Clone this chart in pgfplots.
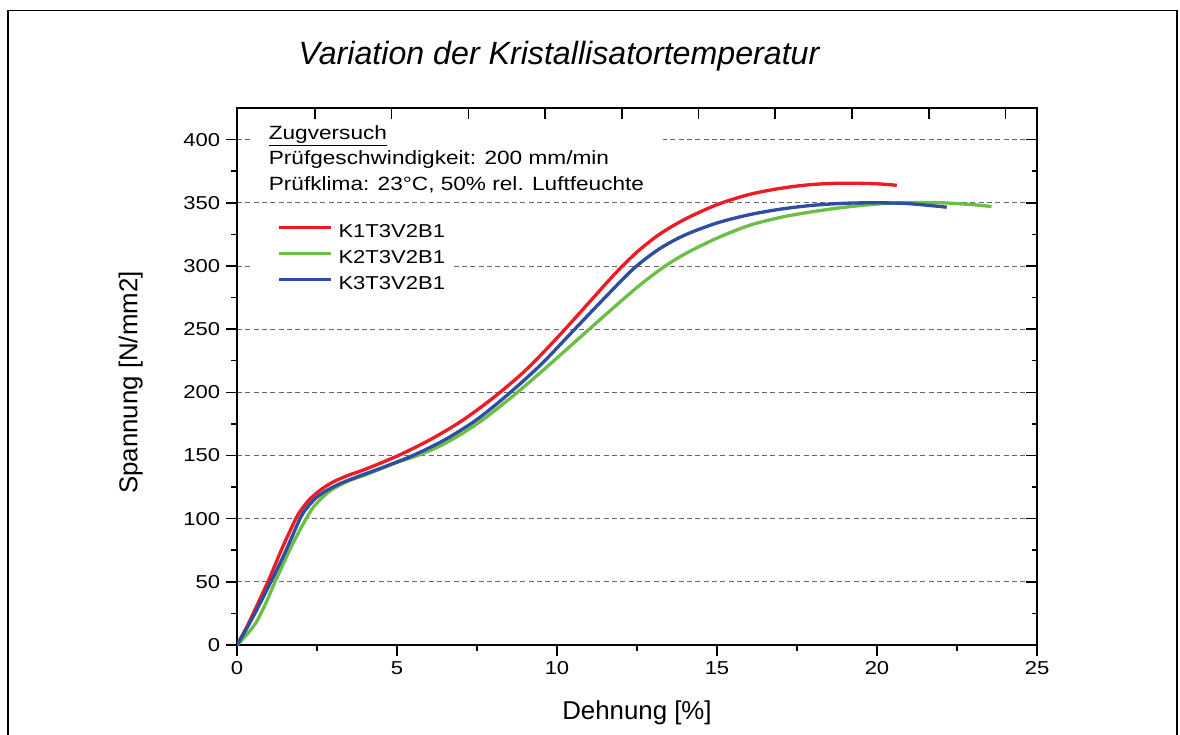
\documentclass[border=0pt]{standalone}
\usepackage{fontspec}
\setmainfont{Liberation Sans}
\newfontfamily\widesans[FakeStretch=1.18]{Liberation Sans}
\usepackage{pgfplots}
\pgfplotsset{compat=1.18}

\definecolor{cKone}{RGB}{237,28,36}
\definecolor{cKtwo}{RGB}{108,190,70}
\definecolor{cKthree}{RGB}{46,78,160}

\begin{document}
\begin{tikzpicture}[x=0.6pt,y=0.6pt]
\path[use as bounding box] (0,0) rectangle (1180,734);
% outer frame
\draw[line width=0.9pt] (8,-10) -- (8,723.3) -- (1177,723.3) -- (1177,-10);
% title
\node[anchor=base, font=\fontsize{19.3}{22}\selectfont\itshape] at (559,669)
  {Variation der Kristallisatortemperatur};

\begin{axis}[
  at={(142.2pt,53.4pt)}, anchor=south west,
  width=480pt, height=322.2pt, scale only axis,
  xmin=0, xmax=25, ymin=0, ymax=425,
  xtick={0,5,...,25}, ytick={0,50,...,400},
  minor x tick num=1, minor y tick num=1,
  xtick pos=left, ytick pos=left,
  tick align=outside,
  major tick length=6.6pt, minor tick length=3.3pt,
  tick style={black, line width=0.9pt},
  axis line style={line width=0.9pt},
  ymajorgrids,
  major grid style={black!60, line width=0.5pt, dash pattern=on 3pt off 2pt},
  /pgf/number format/assume math mode=true,
  ticklabel style={font=\widesans\fontsize{11.2}{13}\selectfont},
  xlabel={Dehnung [\%]},
  ylabel={Spannung [N/mm2]},
  label style={font=\fontsize{15.5}{18}\selectfont},
  xlabel style={at={(axis description cs:0.5,-0.1384)}, anchor=base},
  ylabel style={at={(axis description cs:-0.1246,0.4888)}, anchor=base},
  legend style={at={(axis description cs:0.0496,0.7896)}, anchor=north west,
    draw=none, fill=none, inner sep=0pt, row sep=0pt, column sep=3.6pt,
    font=\widesans\fontsize{11.2}{13}\selectfont,
    nodes={inner sep=0pt, text height=10pt, text depth=5.5pt}},
  legend cell align=left,
  legend image code/.code={\draw[#1] (0pt,4pt) -- (31.3pt,4pt);},
]
% white backgrounds behind the annotation and the legend
\fill[white] (axis cs:0.406,413.9) rectangle (axis cs:13.31,355.4);
\fill[white] (axis cs:0.406,342.7) rectangle (axis cs:6.656,274.6);

\addplot[cKone, line width=2pt, smooth] coordinates {
(0,0) (0.3,14) (0.6,30) (1.0,52) (1.4,76) (1.84,100) (2.05,108.5) (2.3,116)
(2.6,122.5) (3.0,129) (3.5,134.5) (4.0,139) (5.0,149.5) (6.0,162) (7.0,177)
(8.0,195.5) (9.0,217) (10.0,243) (11.0,271) (11.8,293.5) (12.5,311)
(13.2,325) (14.0,337) (15.0,348.5) (16.0,356.5) (17.0,361.5) (18.0,364.5)
(19.0,365.5) (20.0,365) (20.62,363.8)
};
\addlegendentry{K1T3V2B1}

\addplot[cKtwo, line width=2pt, smooth] coordinates {
(0,0) (0.3,8) (0.6,18) (0.9,33) (1.19,50) (1.7,78) (2.16,100) (2.4,109.5)
(2.7,117.5) (3.0,123.5) (3.5,130) (4.0,134.5) (4.5,139.5) (5.0,144.5)
(5.7,150.5) (6.5,159.5) (7.5,175) (8.5,194.5) (9.5,216) (10.5,238.5)
(11.5,261) (12.5,283) (13.3,298.5) (14.0,309.5) (15.0,322) (16.0,332)
(17.0,338.5) (18.0,343) (19.0,346.5) (20.0,349) (21.0,350.2) (22.0,350)
(23.0,348.5) (23.58,347)
};
\addlegendentry{K2T3V2B1}

\addplot[cKthree, line width=2pt, smooth] coordinates {
(0,0) (0.3,13) (0.6,27) (1.06,50) (1.5,73) (1.97,100) (2.2,109) (2.45,116)
(2.75,121.5) (3.2,127.5) (3.8,133.5) (4.5,140) (5.5,150) (6.5,162.5)
(7.5,178.5) (8.5,199) (9.5,222) (10.5,248.5) (11.5,275) (12.4,298)
(13.2,313.5) (14.0,324.5) (15.0,334) (16.0,340.5) (17.0,345) (18.0,348)
(19.0,349.6) (20.0,350) (21.0,349.3) (22.18,346.5)
};
\addlegendentry{K3T3V2B1}
\end{axis}

% mirrored ticks on the top and right sides, pointing inwards
\begin{axis}[
  at={(142.2pt,53.4pt)}, anchor=south west,
  width=480pt, height=322.2pt, scale only axis,
  xmin=0, xmax=25, ymin=0, ymax=425,
  axis x line*=top, axis y line*=right,
  xtick={2.44,4.83,7.23,9.63,12.03,14.42,16.82,19.22,21.62,24.02},
  xticklabels={}, minor x tick num=0,
  ytick={0,50,...,400}, minor y tick num=1, yticklabels={},
  tick align=inside,
  major tick length=6.6pt, minor tick length=3.3pt,
  tick style={black, line width=0.9pt},
  axis line style={line width=0.9pt},
]
\end{axis}

% test conditions
\begin{scope}[every node/.style={anchor=base west, inner sep=0pt,
    font=\widesans\fontsize{11.5}{13}\selectfont}]
\node at (268.5,594.7) {\underline{Zugversuch}};
\node at (268.5,569) {Prüfgeschwindigkeit: 200 mm/min};
\node at (268.5,543.3) {Prüfklima: 23°C, 50\% rel. Luftfeuchte};
\end{scope}
\end{tikzpicture}
\end{document}
